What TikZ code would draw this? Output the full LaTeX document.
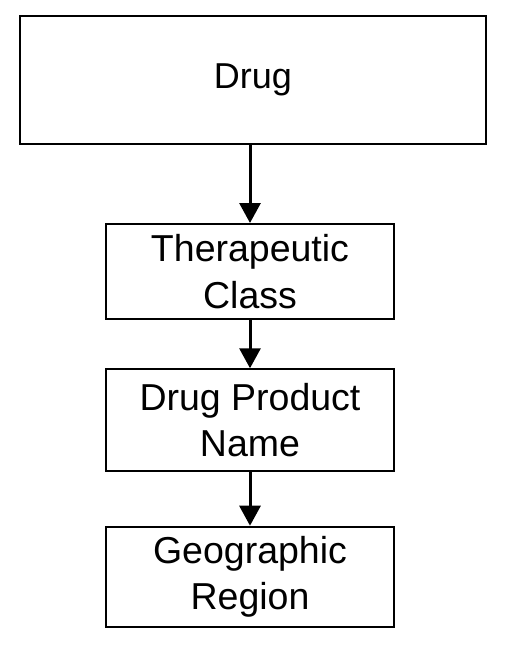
\documentclass[tikz,border=0pt]{standalone}
\usepackage{fontspec}
\setmainfont{Liberation Sans}
\usetikzlibrary{arrows.meta}
\begin{document}
\begin{tikzpicture}[x=1pt,y=-1pt,
  boxnode/.style={draw=black,line width=2pt,fill=white,inner sep=0pt,align=center,
    font=\fontsize{37.5}{46.7}\selectfont},
  conn/.style={line width=3pt,-{Triangle[width=21pt,length=20pt]}}]
\useasboundingbox (0,0) rectangle (506,650);
\node[boxnode,minimum width=466pt,minimum height=128pt,font=\fontsize{36}{43}\selectfont] (drug) at (253,80) {Drug};
\node[boxnode,minimum width=288pt,minimum height=95pt] (ther) at (250,271.5) {Therapeutic\\Class};
\node[boxnode,minimum width=288pt,minimum height=101.5pt] (dpn) at (250,420) {Drug Product\\Name};
\node[boxnode,minimum width=288pt,minimum height=100pt] (geo) at (250,576.7) {Geographic\\Region};
\draw[conn] (drug.south -| ther.north) -- (ther.north);
\draw[conn] (ther.south) -- (dpn.north);
\draw[conn] (dpn.south) -- (geo.north);
\end{tikzpicture}
\end{document}
